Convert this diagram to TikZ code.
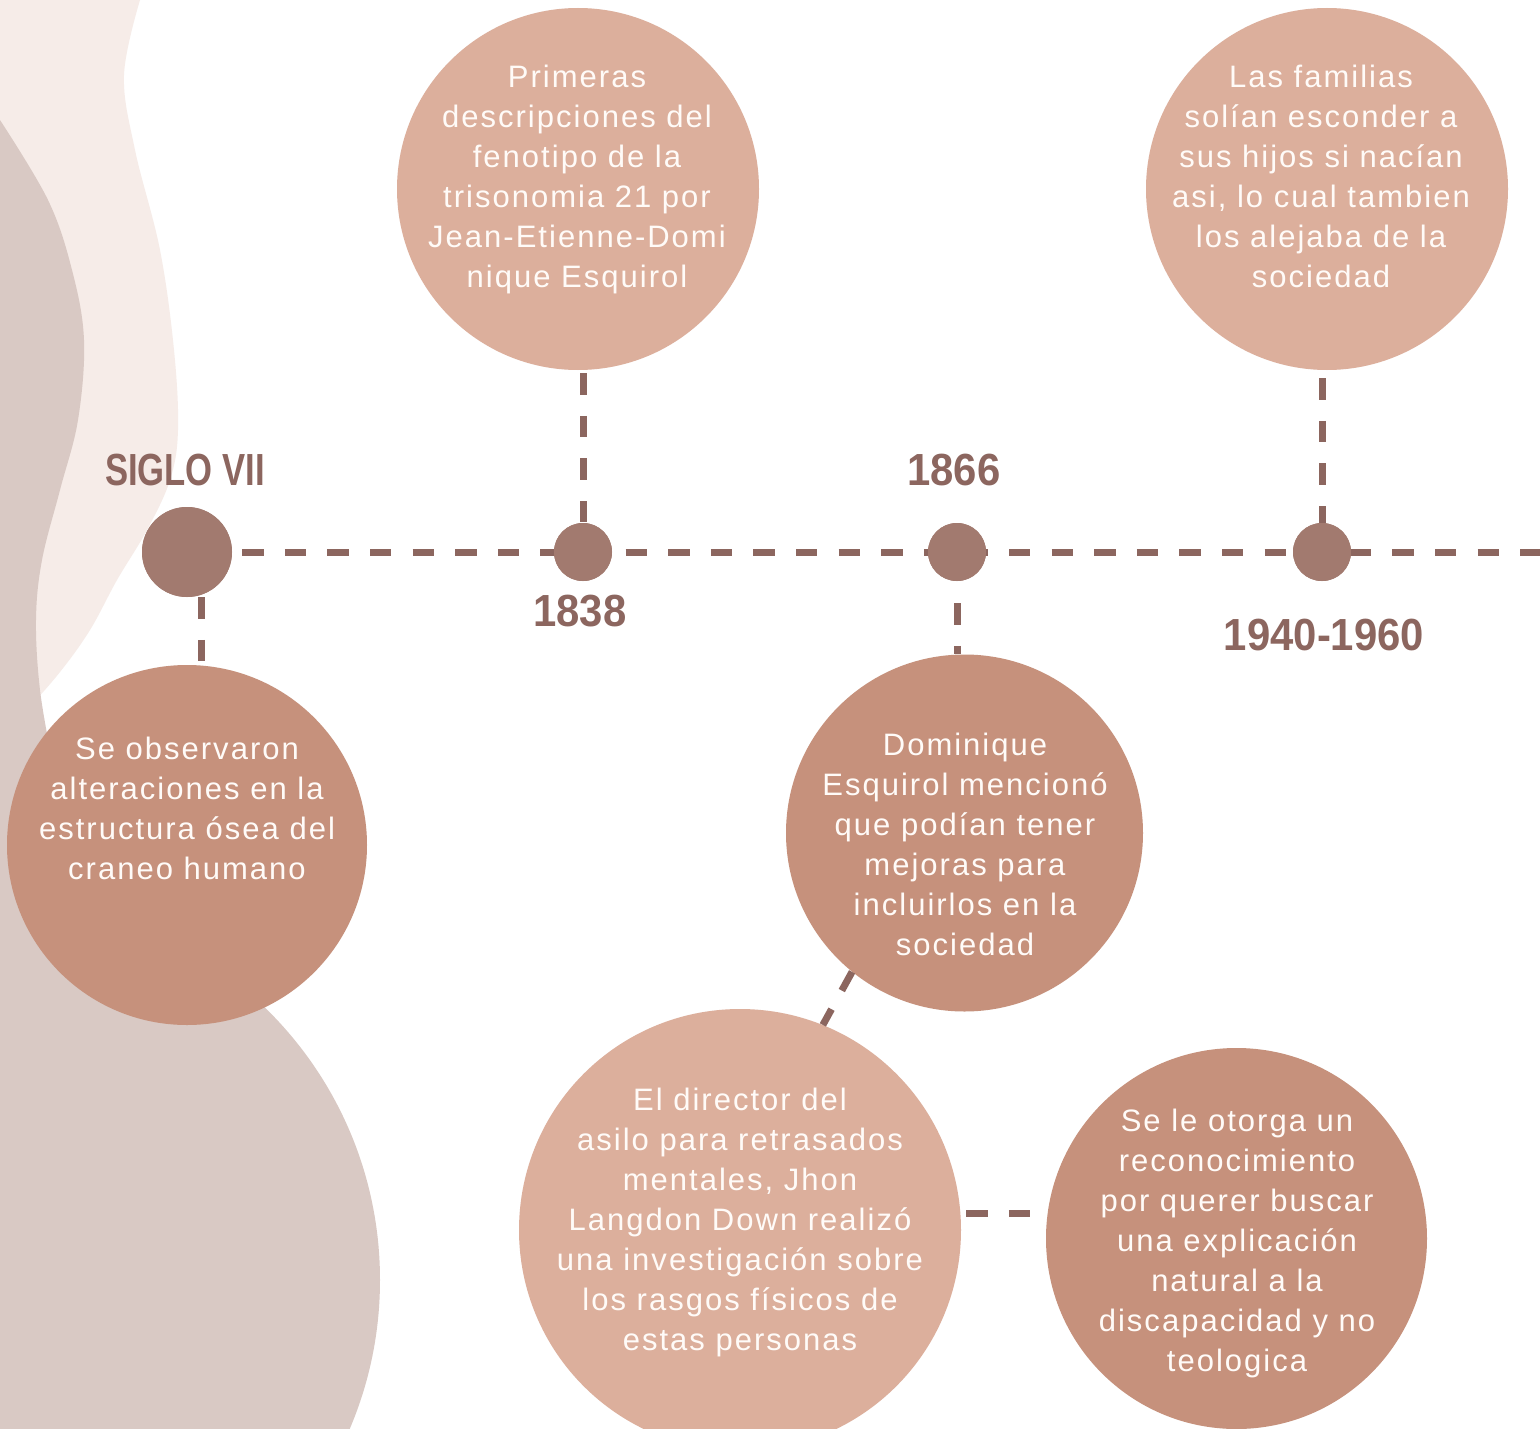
\documentclass[tikz,border=0pt]{standalone}
\usepackage{fontspec}
\setmainfont{Liberation Sans}
\newfontfamily\bodyfont{Liberation Sans}[LetterSpace=6.5]
\newfontfamily\sigfont{Liberation Sans}[FakeStretch=0.77]
\newfontfamily\yearfont{Liberation Sans}[FakeStretch=0.93]
\definecolor{lineC}{HTML}{8C665F}
\definecolor{dotC}{HTML}{A27A6F}
\definecolor{darkC}{HTML}{C6917C}
\definecolor{lightC}{HTML}{DCAF9C}
\definecolor{bgpink}{HTML}{F6ECE8}
\definecolor{bgtaupe}{HTML}{D9C9C4}
\definecolor{textC}{HTML}{FFFBF8}
\begin{document}
\begin{tikzpicture}[x=1pt,y=-1pt,
  dashline/.style={draw=lineC, line width=7pt, dash pattern=on 21.3pt off 21.3pt},
  dotnode/.style={circle, fill=dotC, inner sep=0pt},
  darkcircle/.style={circle, fill=darkC, inner sep=0pt},
  lightcircle/.style={circle, fill=lightC, inner sep=0pt},
  bodytext/.style={text=textC, align=center, inner sep=0pt, font=\bodyfont\fontsize{31}{40}\selectfont},
  siglabel/.style={text=lineC, inner sep=0pt, font=\sigfont\bfseries\fontsize{45}{45}\selectfont},
  yearlabel/.style={text=lineC, inner sep=0pt, font=\yearfont\bfseries\fontsize{45}{45}\selectfont}]
\useasboundingbox (0,0) rectangle (1540,1429);
\clip (0,0) rectangle (1540,1429);
\fill[white] (0,0) rectangle (1540,1429);
% background shapes
\fill[bgpink] (0,0) -- plot[smooth, tension=0.6] coordinates {(140,0) (124,75) (135,150) (160,250) (174,350) (178,430) (170,480) (147,530) (117,580) (90,630) (60,672) (25,712) (0,738)} -- cycle;
\fill[bgtaupe] (0,120) -- plot[smooth, tension=0.6] coordinates {(0,120) (48,200) (72,270) (84,340) (78,420) (60,490) (42,560) (36,620) (40,690) (52,760)} -- (120,900) -- (120,1300) -- (0,1429) -- cycle;
\fill[bgtaupe] (0,1280) circle (380pt);
% timeline dots
\node[dotnode, minimum size=90pt] (d1) at (187,552) {};
\node[dotnode, minimum size=58pt] (d2) at (583,552) {};
\node[dotnode, minimum size=58pt] (d3) at (957,552) {};
\node[dotnode, minimum size=58pt] (d4) at (1322,552) {};
\coordinate (tend) at (1545,552);
% event circles
\node[darkcircle, minimum size=360pt] (c1) at (187,845) {};
\node[lightcircle, minimum size=362pt] (c2) at (578,189) {};
\node[lightcircle, minimum size=362pt] (c3) at (1327,189) {};
\node[darkcircle, minimum size=357pt] (c4) at (964.5,833) {};
\node[lightcircle, minimum size=442pt] (c5) at (740,1230) {};
\node[darkcircle, minimum size=381pt] (c6) at (1236.5,1238.5) {};
% connectors
\draw[dashline] ([xshift=10pt]d1.east) -- (tend);
\draw[dashline] ([xshift=14pt]d1.south) -- ([xshift=14pt]c1.north);
\draw[dashline, shorten <=3pt] (c2.south -| d2) -- (d2.north);
\draw[dashline, shorten <=22pt] (d3.south) -- (d3.south |- c4.north);
\draw[dashline, shorten <=8pt] (c3.south -| d4) -- (d4.north);
\draw[dashline] (c4.231) -- (c5.68);
\draw[dashline, shorten <=5pt] ([yshift=17pt]c5.east) -- ([yshift=17pt]c5.east -| c6.west);
% dots on top of the timeline
\fill[dotC] (d1.center) circle (45pt);
\fill[dotC] (d2.center) circle (29pt);
\fill[dotC] (d3.center) circle (29pt);
\fill[dotC] (d4.center) circle (29pt);
% texts
\node[bodytext] (t1) at (187,808) {Se observaron\\alteraciones en la\\estructura ósea del\\craneo humano};
\node[bodytext] (t2) at (577,179) {Primeras\\descripciones del\\fenotipo de la\\trisonomia 21 por\\Jean-Etienne-Domi\\nique Esquirol};
\node[bodytext] (t3) at (1321,176) {Las familias\\solían esconder a\\sus hijos si nacían\\asi, lo cual tambien\\los alejaba de la\\sociedad};
\node[bodytext] (t4) at (965,844) {Dominique\\Esquirol mencionó\\que podían tener\\mejoras para\\incluirlos en la\\sociedad};
\node[bodytext] (t5) at (740,1222) {El director del\\asilo para retrasados\\mentales, Jhon\\Langdon Down realizó\\una investigación sobre\\los rasgos físicos de\\estas personas};
\node[bodytext] (t6) at (1237,1243) {Se le otorga un\\reconocimiento\\por querer buscar\\una explicación\\natural a la\\discapacidad y no\\teologica};
% labels
\node[siglabel] (l1) at (185,470) {SIGLO VII};
\node[yearlabel] (l2) at (580,611) {1838};
\node[yearlabel] (l3) at (954,470) {1866};
\node[yearlabel] (l4) at (1324,635) {1940-1960};
\end{tikzpicture}
\end{document}
